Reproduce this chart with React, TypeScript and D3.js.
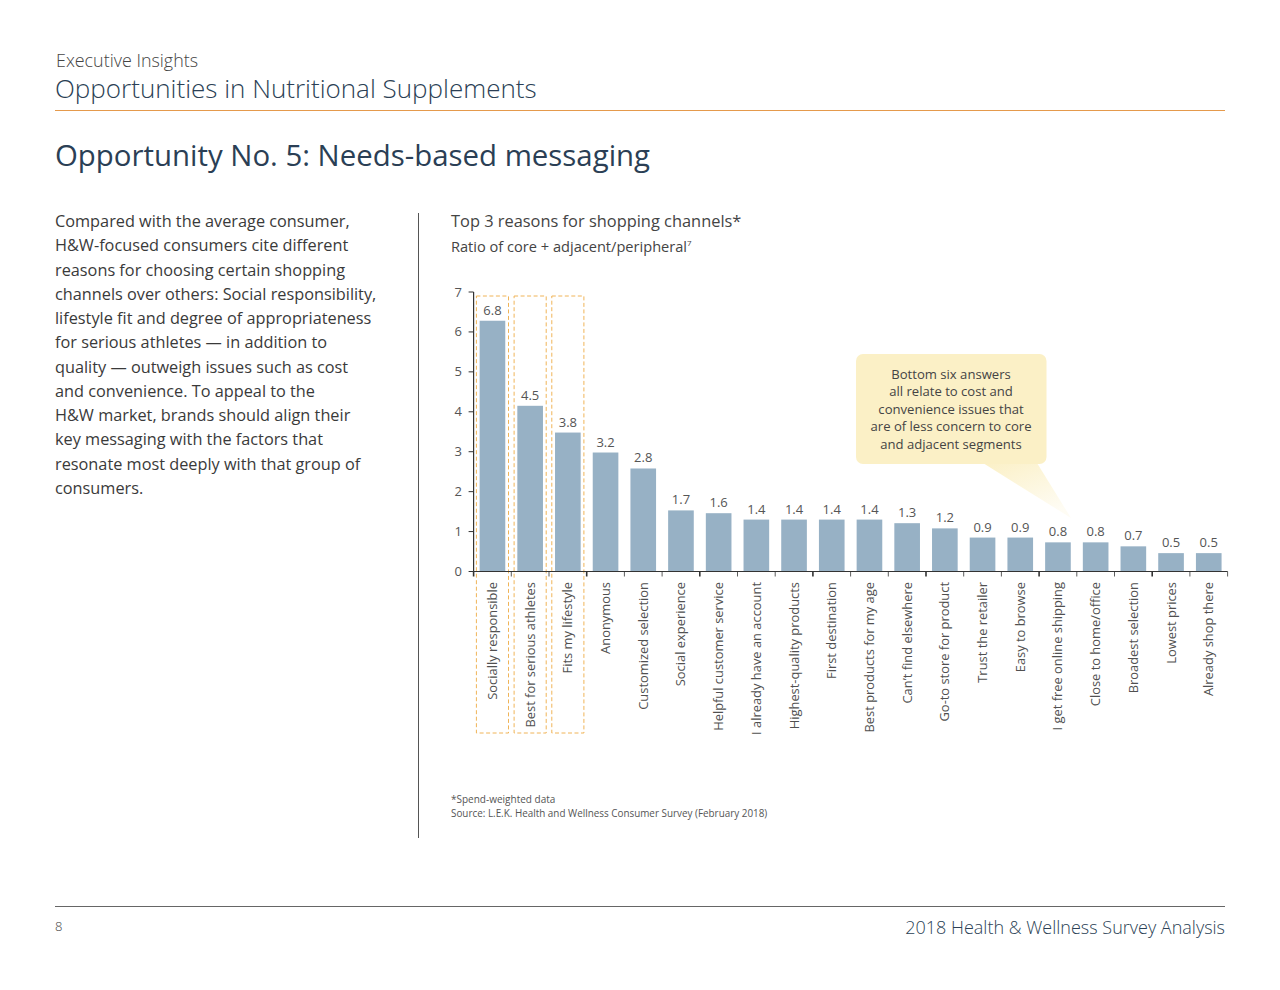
import React, { useEffect } from "react";
import * as d3 from "d3";

const categories = [
  "Socially responsible",
  "Best for serious athletes",
  "Fits my lifestyle",
  "Anonymous",
  "Customized selection",
  "Social experience",
  "Helpful customer service",
  "I already have an account",
  "Highest-quality products",
  "First destination",
  "Best products for my age",
  "Can’t find elsewhere",
  "Go-to store for product",
  "Trust the retailer",
  "Easy to browse",
  "I get free online shipping",
  "Close to home/office",
  "Broadest selection",
  "Lowest prices",
  "Already shop there",
];
// printed value labels
const valueLabels = [6.8, 4.5, 3.8, 3.2, 2.8, 1.7, 1.6, 1.4, 1.4, 1.4, 1.4, 1.3, 1.2, 0.9, 0.9, 0.8, 0.8, 0.7, 0.5, 0.5];
// bar heights as drawn in the reference (read against the axis)
const barValues = [6.28, 4.15, 3.48, 2.98, 2.58, 1.53, 1.46, 1.3, 1.3, 1.3, 1.3, 1.21, 1.08, 0.85, 0.85, 0.73, 0.73, 0.63, 0.46, 0.46];
const yTicks = [0, 1, 2, 3, 4, 5, 6, 7];
const highlighted = [0, 1, 2];

const paragraph = [
  "Compared with the average consumer,",
  "H&W-focused consumers cite different",
  "reasons for choosing certain shopping",
  "channels over others: Social responsibility,",
  "lifestyle fit and degree of appropriateness",
  "for serious athletes — in addition to",
  "quality — outweigh issues such as cost",
  "and convenience. To appeal to the",
  "H&W market, brands should align their",
  "key messaging with the factors that",
  "resonate most deeply with that group of",
  "consumers.",
];
const calloutLines = [
  "Bottom six answers",
  "all relate to cost and",
  "convenience issues that",
  "are of less concern to core",
  "and adjacent segments",
];

const FONT = "'Open Sans', 'Noto Sans', sans-serif";

export default function App() {
  useEffect(() => {
    document.body.style.margin = "0";
  }, []);

  const x = d3.scaleBand<string>().domain(categories).range([473.6, 1227.6]).paddingInner(0.32).paddingOuter(0.16);
  const y = d3.scaleLinear().domain([0, 7]).range([571.5, 292]);
  const step = x.step();
  const x0 = 473.6;

  return (
    <svg width={1280} height={990} style={{ display: "block", fontFamily: FONT }}>
      <defs>
        <linearGradient id="ptr" x1="0" y1="0" x2="0.6" y2="1">
          <stop offset="0%" stopColor="#FBF0C6" stopOpacity={1} />
          <stop offset="100%" stopColor="#FBF0C6" stopOpacity={0.2} />
        </linearGradient>
      </defs>
      {/* header */}
      <text x={56} y={67} fontSize={17.9} fill="#444" fontWeight={300}>Executive Insights</text>
      <text x={55} y={98} fontSize={26} fill="#2B3F55" fontWeight={300}>Opportunities in Nutritional Supplements</text>
      <line x1={55} x2={1225} y1={110.5} y2={110.5} stroke="#E59A4C" strokeWidth={1} />
      <text x={55} y={166} fontSize={29.4} fill="#2B3F55">Opportunity No. 5: Needs-based messaging</text>

      {/* paragraph */}
      {paragraph.map((l, i) => (
        <text key={i} x={55} y={227 + i * 24.25} fontSize={16.3} fill="#3a3a3a">{l}</text>
      ))}
      <line x1={418.5} x2={418.5} y1={213} y2={838} stroke="#555" strokeWidth={1} />

      {/* chart titles */}
      <text x={451} y={227} fontSize={16.4} fill="#444">Top 3 reasons for shopping channels*</text>
      <text x={451} y={252} fontSize={14.6} fill="#444">
        Ratio of core + adjacent/peripheral<tspan fontSize={8} dy={-6}>7</tspan>
      </text>

      {/* highlight boxes */}
      {highlighted.map((i) => (
        <rect key={i} x={x0 + i * step + 2.8} y={296} width={step - 5.6} height={437}
          fill="none" stroke="#F0B458" strokeWidth={1} strokeDasharray="4,2.5" />
      ))}

      {/* bars */}
      {categories.map((c, i) => (
        <rect key={c} x={x(c)} y={y(barValues[i])} width={x.bandwidth()} height={y(0) - y(barValues[i])} fill="#97B1C5" />
      ))}
      {categories.map((c, i) => (
        <text key={c} x={(x(c) as number) + x.bandwidth() / 2} y={y(barValues[i]) - 6} fontSize={13}
          textAnchor="middle" fill="#555">{valueLabels[i].toFixed(1)}</text>
      ))}

      {/* y axis */}
      <line x1={x0} x2={x0} y1={y(7)} y2={y(0)} stroke="#333" strokeWidth={1.2} />
      {yTicks.map((t) => (
        <g key={t}>
          <line x1={x0 - 5} x2={x0} y1={y(t)} y2={y(t)} stroke="#333" strokeWidth={1} />
          <text x={462} y={y(t) + 4.5} fontSize={13} textAnchor="end" fill="#555">{t}</text>
        </g>
      ))}

      {/* x axis */}
      <line x1={x0} x2={1227.6} y1={y(0)} y2={y(0)} stroke="#333" strokeWidth={1.2} />
      {d3.range(categories.length + 1).map((i) => (
        <line key={i} x1={x0 + i * step} x2={x0 + i * step} y1={y(0)} y2={y(0) + 5} stroke="#333" strokeWidth={i % 3 === 0 ? 1.6 : 0.8} />
      ))}
      {categories.map((c) => {
        const cx = (x(c) as number) + x.bandwidth() / 2;
        return (
          <text key={c} transform={`translate(${cx + 4.5},582) rotate(-90)`} fontSize={12.9} textAnchor="end" fill="#505050">{c}</text>
        );
      })}

      {/* callout */}
      <path d="M983,463 L1037,463 L1071,518 Z" fill="url(#ptr)" />
      <rect x={856} y={354} width={190.5} height={110} rx={7} fill="#FBF0C6" />
      {calloutLines.map((l, i) => (
        <text key={i} x={951} y={379 + i * 17.4} fontSize={13.1} textAnchor="middle" fill="#444">{l}</text>
      ))}

      {/* footnotes */}
      <text x={451} y={803} fontSize={10} fill="#555">*Spend-weighted data</text>
      <text x={451} y={817} fontSize={9.9} fill="#555">Source: L.E.K. Health and Wellness Consumer Survey (February 2018)</text>

      {/* footer */}
      <line x1={55} x2={1225} y1={906.5} y2={906.5} stroke="#666" strokeWidth={1} />
      <text x={55} y={931} fontSize={13} fill="#444" fontWeight={300}>8</text>
      <text x={1225} y={934} fontSize={18} textAnchor="end" fill="#2B3F55" fontWeight={300}>2018 Health &amp; Wellness Survey Analysis</text>
    </svg>
  );
}
